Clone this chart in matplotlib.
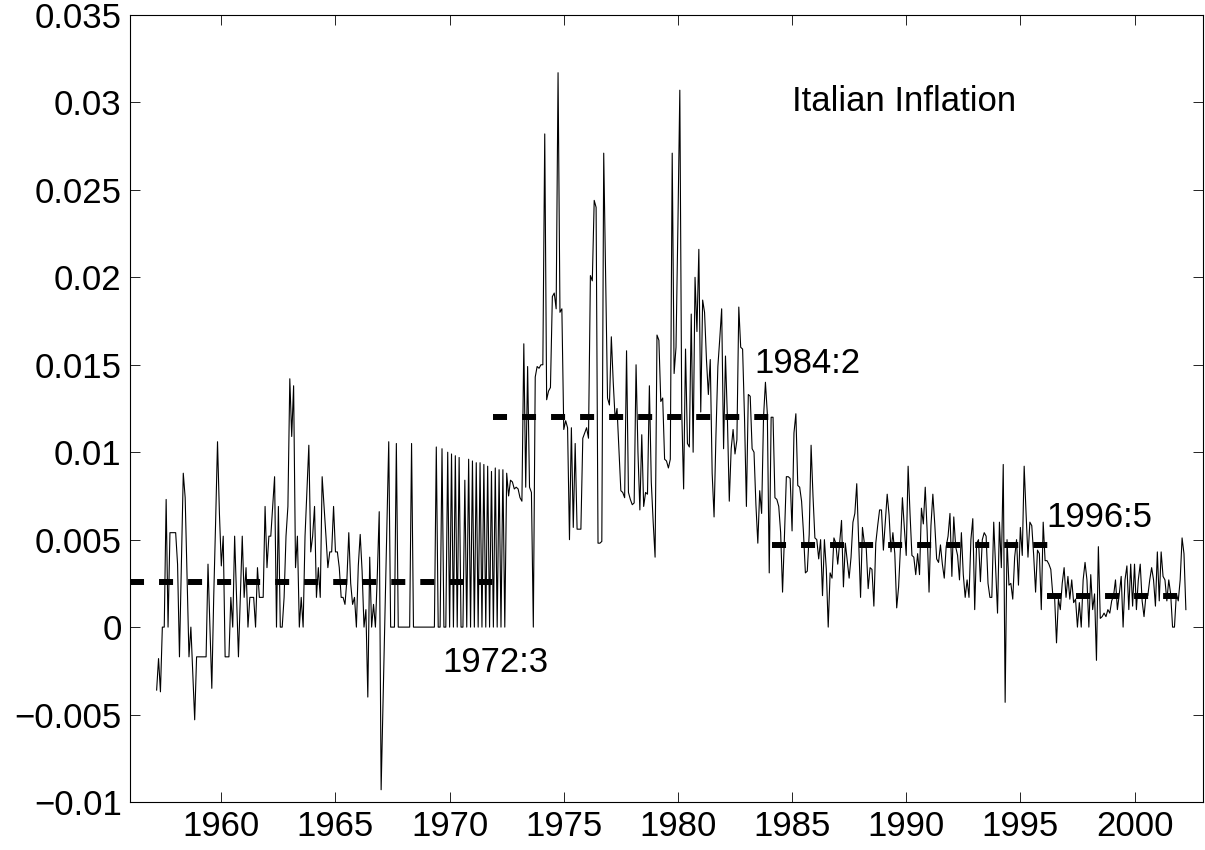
import matplotlib
matplotlib.use('Agg')
import matplotlib.pyplot as plt
import numpy as np
from matplotlib.ticker import FuncFormatter, FixedLocator

# Italian monthly inflation, in thousandths, starting 1957:3 (one row per year)
infl_1957_1966 = [
    -3.6, -1.8, -3.7, 0, 0, 7.3, 0, 5.4, 5.4, 5.4,
    5.4, 3.6, -1.7, 3.5, 8.8, 7.4, 2.8, -1.7, 0, -2.6, -5.3, -1.7,
    -1.7, -1.7, -1.7, -1.7, -1.7, 3.6, 0, -3.5, 1.7, 6.0, 10.6, 6.5,
    3.5, 5.2, -1.7, -1.7, -1.7, 1.7, 0, 5.2, 1.7, -1.7, 1.7, 5.2,
    1.7, 3.4, 0, 1.7, 1.7, 1.7, 0, 3.4, 1.7, 1.7, 1.7, 6.9,
    3.4, 5.2, 5.2, 6.9, 8.6, 0, 6.9, 0, 0, 1.7, 5.2, 6.9,
    14.2, 10.9, 13.8, 3.4, 5.2, 0, 1.7, 0, 5.2, 7.8, 10.4, 4.3,
    5.2, 6.9, 1.7, 3.4, 1.7, 8.6, 6.9, 5.2, 3.4, 4.3, 4.3, 6.9,
    4.3, 4.3, 3.4, 1.7, 1.7, 1.3, 2.7, 5.4, 2.5, 1.3, 1.7, 0,
    3.5, 5.3, 3.2, 0, 1.0, -4.0, 4.0, 0, 1.3, 0, 3.0, 6.6,
]
infl_1967_1976 = [
    -9.3, -4.3, 0.6, 5.6, 10.6, 0, 0, 0, 10.5, 0, 0, 0,
    0, 0, 0, 0, 10.5, 0, 0, 0, 0, 0, 0, 0,
    0, 0, 0, 0, 0, 10.3, 0, 0, 10.2, 0, 0, 10.0,
    0, 9.9, 0, 9.8, 0, 9.7, 0, 0, 8.4, 0, 9.6, 0,
    9.5, 0, 9.4, 0, 9.4, 0, 9.3, 0, 9.2, 0, 8.9, 0,
    9.1, 0, 9.0, 0, 9.0, 0, 8.8, 7.5, 8.4, 8.3, 7.9, 8.0,
    7.9, 7.4, 7.2, 16.2, 8.0, 14.9, 8.0, 7.7, 0, 14.3, 14.9, 14.8,
    15.0, 15.0, 28.2, 13.0, 13.5, 13.7, 18.9, 19.1, 18.2, 31.7, 18.0, 18.2,
    11.3, 11.8, 11.4, 5.0, 11.4, 5.7, 10.5, 5.6, 5.6, 5.6, 10.8, 11.1,
    11.4, 10.8, 20.1, 19.8, 24.4, 24.0, 4.8, 4.8, 4.9, 27.1, 20.0, 13.1,
]
infl_1977_1986 = [
    12.7, 16.6, 14.0, 11.9, 12.5, 10.1, 7.8, 7.7, 7.4, 15.8, 7.7, 7.3,
    7.0, 7.1, 15.0, 10.0, 6.7, 11.0, 6.9, 7.7, 7.6, 13.8, 8.3, 6.0,
    4.0, 16.7, 16.4, 12.9, 13.1, 9.6, 9.5, 9.1, 9.6, 27.1, 14.5, 16.0,
    23.0, 30.7, 12.4, 7.9, 15.9, 10.5, 10.3, 17.9, 10.0, 20.0, 16.9, 21.6,
    12.3, 18.7, 18.0, 15.3, 13.3, 15.3, 8.8, 6.3, 11.0, 14.9, 16.5, 18.2,
    10.2, 15.5, 12.0, 7.2, 10.2, 11.3, 9.9, 10.7, 18.3, 16.0, 15.9, 12.0,
    6.9, 13.3, 13.2, 10.2, 10.0, 7.0, 4.8, 7.8, 6.5, 12.0, 14.0, 12.2,
    3.1, 12.0, 12.0, 7.4, 7.3, 6.9, 5.4, 2.0, 5.2, 8.6, 8.6, 8.5,
    5.5, 11.1, 12.2, 8.1, 8.0, 7.2, 5.4, 3.1, 3.2, 5.3, 10.4, 7.5,
    5.1, 5.0, 3.9, 5.0, 1.8, 5.0, 3.3, 0.0, 3.1, 2.8, 5.1, 4.8,
]
infl_1987_1996 = [
    3.6, 4.8, 6.1, 2.3, 4.8, 3.8, 2.8, 4.0, 6.0, 6.5, 8.2, 5.0,
    1.7, 5.7, 4.8, 4.5, 2.2, 3.4, 3.3, 1.2, 4.8, 5.8, 6.7, 6.7,
    4.4, 6.0, 7.6, 6.4, 4.3, 5.4, 4.2, 1.1, 2.3, 4.6, 7.4, 5.7,
    4.1, 9.2, 6.5, 4.1, 4.0, 3.0, 4.2, 3.0, 6.8, 5.9, 8.0, 5.5,
    2.0, 5.8, 7.6, 5.9, 3.9, 3.7, 4.7, 3.6, 2.8, 4.6, 5.2, 6.5,
    2.9, 6.3, 4.6, 4.1, 2.7, 5.4, 3.0, 1.7, 2.7, 1.7, 5.0, 6.2,
    1.0, 4.8, 5.0, 2.6, 5.0, 5.4, 5.2, 2.5, 1.7, 1.7, 6.0, 3.4,
    0.8, 6.0, 3.4, 9.3, -4.3, 5.0, 2.4, 2.5, 1.6, 4.0, 5.0, 2.4,
    5.7, 4.1, 9.2, 6.5, 4.0, 6.0, 5.8, 4.1, 2.0, 4.4, 4.2, 1.0,
    6.0, 3.8, 3.8, 3.6, 3.3, 1.9, 1.7, -0.9, 1.6, 1.0, 2.5, 3.4,
]
infl_1997_2002 = [
    1.7, 2.9, 1.6, 2.7, 1.4, 1.6, 0.0, 1.4, 0.0, 2.7, 3.7, 2.7,
    0.0, 3.0, 1.0, 1.9, -1.9, 4.6, 0.5, 0.6, 0.8, 0.6, 1.0, 0.8,
    1.5, 1.8, 2.7, 1.0, 1.9, 2.9, 0.0, 2.7, 3.5, 1.0, 3.6, 1.2,
    3.6, 1.0, 2.7, 3.6, 1.5, 0.6, 1.8, 1.8, 2.7, 3.4, 2.7, 1.2,
    4.3, 1.5, 4.3, 2.9, 2.7, 1.5, 2.7, 1.9, 0.0, 0.0, 1.9, 1.5,
    2.7, 5.1, 4.2, 1.0,
]
start_year, start_month = 1957, 3

# regime means (dashed lines) and the dates the segments span
regime_mean = [0.0026, 0.0120, 0.0047, 0.0018]
regime_from = [1956.0, 1971.92, 1984.13, 1996.17]
regime_to = [1972.17, 1984.17, 1996.33, 2002.25]
break_labels = ['1972:3', '1984:2', '1996:5']
title_text = 'Italian Inflation'

y_ticks = [-0.01, -0.005, 0, 0.005, 0.01, 0.015, 0.02, 0.025, 0.03, 0.035]
x_ticks = [1960, 1965, 1970, 1975, 1980, 1985, 1990, 1995, 2000]

infl = np.array(infl_1957_1966 + infl_1967_1976 + infl_1977_1986
                + infl_1987_1996 + infl_1997_2002) / 1000.0
t = start_year + (start_month - 1 + np.arange(len(infl))) / 12.0

plt.rcParams['font.family'] = ['Liberation Sans', 'DejaVu Sans']
plt.rcParams['lines.scale_dashes'] = False

fig = plt.figure(figsize=(12.05, 8.5), dpi=100)
ax = fig.add_axes([130 / 1205, 48 / 850, 1073 / 1205, 787 / 850])

ax.plot(t, infl, color='k', lw=0.8)

# dashed regime means
for m, a, b in zip(regime_mean, regime_from, regime_to):
    ax.plot([a, b], [m, m], color='k', lw=4.3, dashes=(10.1, 10.8),
            dash_capstyle='butt')

fs = 25
ax.text(1985.0, 0.0295, title_text, fontsize=fs)
ax.text(1983.35, 0.01455, break_labels[1], fontsize=fs)
ax.text(1969.7, -0.00255, break_labels[0], fontsize=fs)
ax.text(1996.15, 0.0057, break_labels[2], fontsize=fs)

ax.set_xlim(1956, 2003)
ax.set_ylim(-0.01, 0.035)
ax.xaxis.set_major_locator(FixedLocator(x_ticks))
ax.yaxis.set_major_locator(FixedLocator(y_ticks))
ax.yaxis.set_major_formatter(FuncFormatter(lambda v, p: ('%g' % round(v, 4)).replace('-', '\u2212')))
ax.tick_params(direction='in', length=7, width=0.6, top=True, right=True,
               labelsize=fs, pad=6)
for s in ax.spines.values():
    s.set_linewidth(0.8)

fig.savefig('out.png', dpi=100)
